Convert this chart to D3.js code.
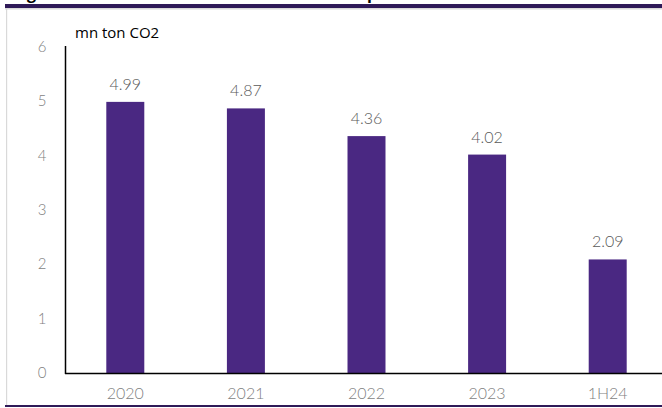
<!DOCTYPE html>
<html>
<head>
<meta charset="utf-8">
<script src="https://cdn.jsdelivr.net/npm/d3@7"></script>
<style>
  body { margin: 0; background: #fff; }
  svg { display: block; }
  .tick-label { font-family: "Lato", "DejaVu Sans", sans-serif; font-weight: 300; fill: #7f7f7f; }
  .val-label { font-family: "Lato", "DejaVu Sans", sans-serif; font-weight: 300; fill: #595959; }
</style>
</head>
<body>
<div id="graph"></div>
<script>
var categories = ["2020", "2021", "2022", "2023", "1H24"];
var emissions = [4.99, 4.87, 4.36, 4.02, 2.09];
var yTicks = [0, 1, 2, 3, 4, 5, 6];
var unitLabel = "mn ton CO2";

var width = 662,
    height = 408;

var svg = d3.select('#graph')
    .append('svg')
    .attr('width', width)
    .attr('height', height);

// frame pieces from the cropped slide
svg.append('text')
    .attr('x', 27).attr('y', -1)
    .style('font', 'bold 16px "Open Sans", sans-serif')
    .text('g');
svg.append('text')
    .attr('x', 367).attr('y', -1)
    .style('font', 'bold 16px "Open Sans", sans-serif')
    .text('p');
svg.append('rect')
    .attr('x', 5).attr('y', 4)
    .attr('width', width - 5).attr('height', 4)
    .attr('fill', '#2f1a58');
svg.append('rect')
    .attr('x', 5).attr('y', 8)
    .attr('width', width - 5).attr('height', 1.5)
    .attr('fill', '#d9d9d9');
svg.append('rect')
    .attr('x', 6).attr('y', 9)
    .attr('width', 1.2).attr('height', 396)
    .attr('fill', '#d9d9d9');
svg.append('rect')
    .attr('x', 5).attr('y', 405)
    .attr('width', width - 5).attr('height', 2)
    .attr('fill', '#2f1a58');

var x = d3.scaleBand()
    .domain(categories)
    .range([65, 668])
    .paddingInner(0.685)
    .paddingOuter(0.3425);

var y = d3.scaleLinear()
    .domain([0, 6])
    .range([373, 47]);

// y tick labels
svg.selectAll('.ytick')
    .data(yTicks)
    .enter()
    .append('text')
    .attr('class', 'tick-label')
    .attr('x', 42)
    .attr('y', function(d) { return y(d) + 5; })
    .attr('text-anchor', 'middle')
    .style('font-size', '15px')
    .text(function(d) { return d; });

// bars
svg.selectAll('.bar')
    .data(emissions)
    .enter()
    .append('rect')
    .attr('class', 'bar')
    .attr('x', function(d, i) { return x(categories[i]); })
    .attr('y', function(d) { return y(d); })
    .attr('width', x.bandwidth())
    .attr('height', function(d) { return y(0) - y(d); })
    .attr('fill', '#4a2882');

// value labels
svg.selectAll('.val')
    .data(emissions)
    .enter()
    .append('text')
    .attr('class', 'val-label')
    .attr('x', function(d, i) { return x(categories[i]) + x.bandwidth() / 2; })
    .attr('y', function(d) { return y(d) - 12; })
    .attr('text-anchor', 'middle')
    .style('font-size', '16px')
    .text(function(d) { return d.toFixed(2); });

// axes lines
svg.append('line')
    .attr('x1', 65.5).attr('x2', 65.5)
    .attr('y1', 46).attr('y2', 374)
    .attr('stroke', '#000').attr('stroke-width', 1.5);
svg.append('line')
    .attr('x1', 65).attr('x2', width)
    .attr('y1', 373.5).attr('y2', 373.5)
    .attr('stroke', '#000').attr('stroke-width', 1.5);

// category labels
svg.selectAll('.xlab')
    .data(categories)
    .enter()
    .append('text')
    .attr('class', 'tick-label')
    .attr('x', function(d) { return x(d) + x.bandwidth() / 2; })
    .attr('y', 399)
    .attr('text-anchor', 'middle')
    .style('font-size', '16px')
    .text(function(d) { return d; });

// unit
svg.append('text')
    .attr('x', 75)
    .attr('y', 38)
    .style('font', '15px "Open Sans", sans-serif')
    .style('fill', '#000')
    .text(unitLabel);
</script>
</body>
</html>
